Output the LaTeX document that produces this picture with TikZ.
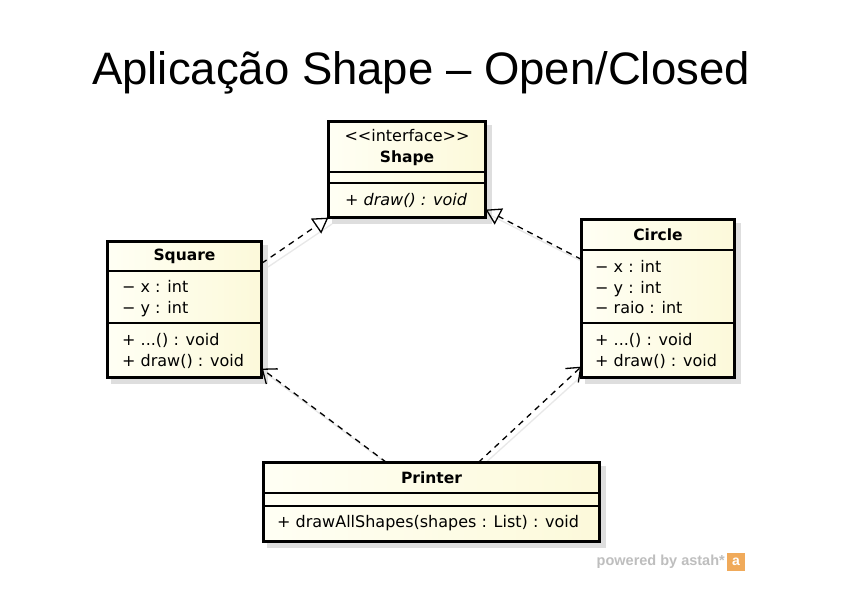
\documentclass[tikz,border=0pt]{standalone}
\usepackage{fontspec}
\setmainfont{DejaVu Sans}
\newfontfamily\titlefont{Liberation Sans}
\usetikzlibrary{arrows.meta,calc}

\definecolor{boxlight}{RGB}{255,255,244}
\definecolor{boxdark}{RGB}{252,249,218}
\definecolor{shadowgray}{RGB}{222,222,222}
\definecolor{ghost}{RGB}{232,232,232}
\definecolor{brandgray}{RGB}{190,190,190}
\definecolor{brandorange}{RGB}{240,170,90}

\tikzset{
  classbox/.style={draw=black, line width=2.8pt, left color=boxlight, right color=boxdark,
    inner sep=0pt, outer sep=0pt},
  shadowbox/.style={fill=shadowgray, draw=none, inner sep=0pt, outer sep=0pt},
  compart/.style={draw=black, line width=1.2pt},
  boxfont/.style={font=\fontsize{16}{19}\selectfont},
  cname/.style={font=\bfseries\fontsize{15.5}{18}\selectfont, anchor=mid},
  stereo/.style={boxfont, anchor=mid},
  member/.style={boxfont, anchor=mid west, inner sep=0pt},
  realize/.style={draw=black, line width=1.3pt, dash pattern=on 6pt off 5pt,
    -{Triangle[open, length=15pt, width=18pt, line width=1.3pt]}},
  depend/.style={draw=black, line width=1.3pt, dash pattern=on 6pt off 5pt,
    -{Straight Barb[length=12pt, width=19pt, line width=1.3pt]}},
  ghostline/.style={draw=ghost, line width=1.3pt},
}

\begin{document}
\begin{tikzpicture}[x=1pt, y=-1pt]
  \fill[white] (0,0) rectangle (842,595);
  \useasboundingbox (0,0) rectangle (842,595);

  % title
  \node[anchor=base west, inner sep=0pt, font=\titlefont\fontsize{45.5}{50}\selectfont]
    (title) at (92,84) {Aplicação Shape – Open/Closed};

  % box shadows
  \node[shadowbox, minimum width=160pt, minimum height=99pt]  (shapeSh)   at (412,174.5) {};
  \node[shadowbox, minimum width=157pt, minimum height=139pt] (squareSh)  at (189.5,314.5) {};
  \node[shadowbox, minimum width=156pt, minimum height=161pt] (circleSh)  at (663,303.5) {};
  \node[shadowbox, minimum width=339pt, minimum height=82pt]  (printerSh) at (436.5,507) {};

  % connector shadows
  \draw[ghostline] (shapeSh.south west) -- ($(squareSh.north east)+(0,22)$);
  \draw[ghostline] ($(shapeSh.south east)+(0,-8)$) -- ($(circleSh.north west)+(0,40)$);
  \draw[ghostline] ($(squareSh.south east)+(0,-9)$) -- ($(printerSh.north west)+(123,0)$);
  \draw[ghostline] ($(circleSh.south west)+(0,-11)$) -- ($(printerSh.north west)+(215,0)$);

  % classes
  \node[classbox, minimum width=157.2pt, minimum height=96.2pt]  (shape)   at (407,169.5) {};
  \node[classbox, minimum width=154.2pt, minimum height=136.2pt] (square)  at (184.5,309.5) {};
  \node[classbox, minimum width=153.2pt, minimum height=158.2pt] (circle)  at (658,298.5) {};
  \node[classbox, minimum width=336.2pt, minimum height=79.2pt]  (printer) at (431.5,502) {};

  % compartments
  \draw[compart] (shape.west |- 0,172) -- (shape.east |- 0,172);
  \draw[compart] (shape.west |- 0,183) -- (shape.east |- 0,183);
  \draw[compart] (square.west |- 0,271) -- (square.east |- 0,271);
  \draw[compart] (square.west |- 0,323) -- (square.east |- 0,323);
  \draw[compart] (circle.west |- 0,250) -- (circle.east |- 0,250);
  \draw[compart] (circle.west |- 0,323) -- (circle.east |- 0,323);
  \draw[compart] (printer.west |- 0,493) -- (printer.east |- 0,493);
  \draw[compart] (printer.west |- 0,506) -- (printer.east |- 0,506);

  % Shape
  \node[stereo] (shapeSt) at (407,139) {<{}<interface>{}>};
  \node[cname]  (shapeNm) at (407,159.5) {Shape};
  \node[member, font=\itshape\fontsize{16}{19}\selectfont] (shapeM1) at (345,202.5) {+ draw() : void};

  % Square
  \node[cname]  (squareNm) at (184.5,257.5) {Square};
  \node[member] (squareA1) at (122,289.5) {− x : int};
  \node[member] (squareA2) at (122,310.5) {− y : int};
  \node[member] (squareM1) at (122,342.5) {+ ...() : void};
  \node[member] (squareM2) at (122,363.5) {+ draw() : void};

  % Circle
  \node[cname]  (circleNm) at (658,237.5) {Circle};
  \node[member] (circleA1) at (595,269.5) {− x : int};
  \node[member] (circleA2) at (595,290.5) {− y : int};
  \node[member] (circleA3) at (595,310.5) {− raio : int};
  \node[member] (circleM1) at (595,342.5) {+ ...() : void};
  \node[member] (circleM2) at (595,363.5) {+ draw() : void};

  % Printer
  \node[cname]  (printerNm) at (431.5,480.5) {Printer};
  \node[member] (printerM1) at (277,524.5) {+ drawAllShapes(shapes : List) : void};

  % realizations
  \draw[realize] ($(square.north east)+(0,22)$) -- (shape.south west);
  \draw[realize] ($(circle.north west)+(0,40)$) -- ($(shape.south east)+(0,-8)$);

  % dependencies
  \draw[depend] ($(printer.north west)+(123,0)$) -- ($(square.south east)+(0,-9)$);
  \draw[depend] ($(printer.north west)+(215,0)$) -- ($(circle.south west)+(0,-11)$);

  % tool mark
  \node[anchor=mid east, inner sep=0pt, text=brandgray,
    font=\titlefont\bfseries\fontsize{14.5}{17}\selectfont] (brand) at (725,563) {powered by astah*};
  \node[fill=brandorange, minimum size=18pt, inner sep=0pt, text=white,
    font=\titlefont\bfseries\fontsize{14}{16}\selectfont] (brandIcon) at (736,562) {a};
\end{tikzpicture}
\end{document}
